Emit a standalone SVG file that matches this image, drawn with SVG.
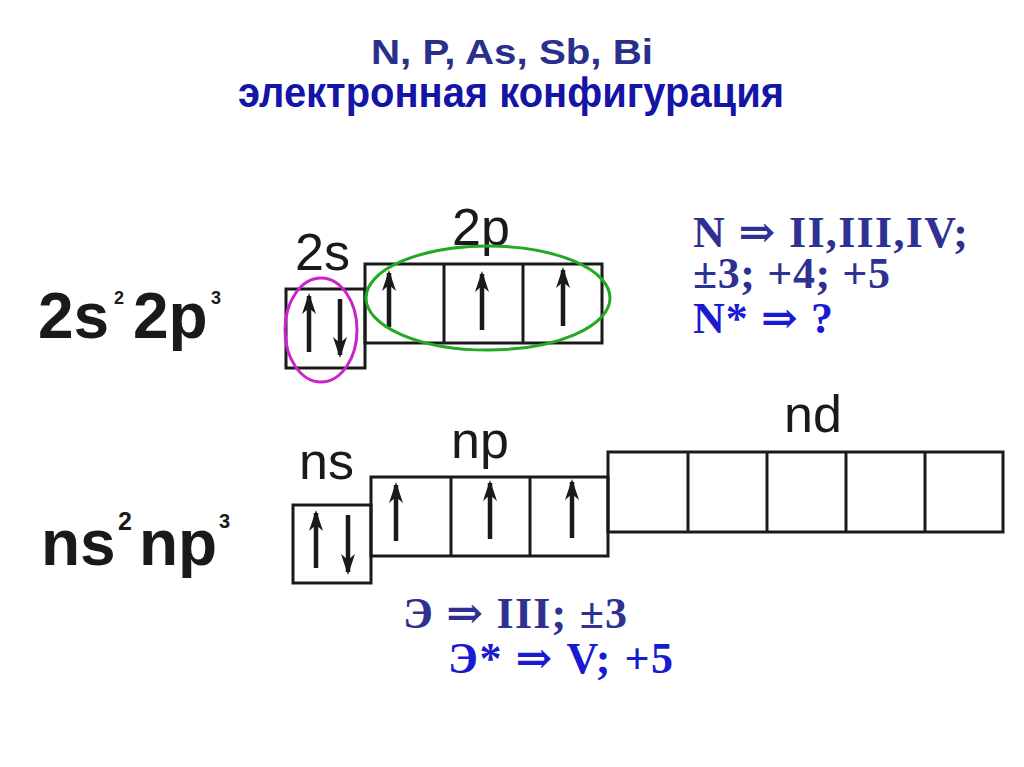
<svg xmlns="http://www.w3.org/2000/svg" width="1024" height="767" viewBox="0 0 1024 767">
<style>
.box{fill:none;stroke:#1a1a1a;stroke-width:3}
.spin{stroke:#1a1a1a;stroke-width:4.5;marker-end:url(#ah)}
.lbl{font-family:"Liberation Sans",Arial,sans-serif;font-size:52px;fill:#1a1a1a}
.cfg{font-family:"Liberation Sans",Arial,sans-serif;font-weight:bold;fill:#1a1a1a}
.tt{font-family:"Liberation Sans",Arial,sans-serif;font-weight:bold}
.ser{font-family:"Liberation Serif","Times New Roman","DejaVu Serif",serif;font-weight:bold;font-size:44px}
.navy{fill:#2e3192}
.blue{fill:#1a1ad2}
</style>
<defs>
<marker id="ah" markerUnits="userSpaceOnUse" markerWidth="26" markerHeight="18" viewBox="-22 -9 26 18" refX="0" refY="0" orient="auto">
<path d="M3,0 L-18,-7 L-12,0 L-18,7 Z" fill="#1a1a1a"/>
</marker>
</defs>
<rect width="1024" height="767" fill="#ffffff"/>

<g id="title">
<text class="tt" x="371" y="64" font-size="35" fill="#2b2f8c" textLength="282" lengthAdjust="spacingAndGlyphs">N, P, As, Sb, Bi</text>
<text class="tt" x="238" y="107" font-size="43" fill="#1414a6" textLength="546" lengthAdjust="spacingAndGlyphs">электронная конфигурация</text>
</g>

<g id="config-2s2p3">
<text class="cfg" x="38" y="338" font-size="64">2s</text>
<text class="cfg" x="114" y="304" font-size="18">2</text>
<text class="cfg" x="133" y="338" font-size="64">2p</text>
<text class="cfg" x="211" y="304" font-size="18">3</text>
</g>

<g id="config-ns2np3">
<text class="cfg" x="41" y="565" font-size="64">ns</text>
<text class="cfg" x="118" y="530" font-size="25">2</text>
<text class="cfg" x="139" y="565" font-size="64">np</text>
<text class="cfg" x="219" y="528" font-size="20">3</text>
</g>

<g id="orbital-2s">
<text class="lbl" x="295" y="270">2s</text>
<rect class="box" x="286" y="289" width="79" height="79"/>
<line class="spin" x1="309" y1="352" x2="309" y2="296"/>
<line class="spin" x1="340" y1="299" x2="340" y2="355"/>
</g>

<g id="orbital-2p">
<text class="lbl" x="452" y="245">2p</text>
<rect class="box" x="365" y="264" width="237" height="79"/>
<line class="box" x1="444" y1="264" x2="444" y2="343"/>
<line class="box" x1="523" y1="264" x2="523" y2="343"/>
<line class="spin" x1="389" y1="327" x2="389" y2="273"/>
<line class="spin" x1="482" y1="330" x2="482" y2="274"/>
<line class="spin" x1="563" y1="326" x2="563" y2="270"/>
</g>

<g id="highlight-2s">
<ellipse cx="321" cy="330" rx="36" ry="52" fill="none" stroke="#cc22cc" stroke-width="3"/>
</g>
<g id="highlight-2p">
<ellipse cx="488" cy="298" rx="122" ry="52" fill="none" stroke="#22aa22" stroke-width="3"/>
</g>

<g id="orbital-ns">
<text class="lbl" x="299" y="479">ns</text>
<rect class="box" x="293" y="505" width="78" height="78"/>
<line class="spin" x1="316" y1="568" x2="316" y2="513"/>
<line class="spin" x1="348" y1="515" x2="348" y2="572"/>
</g>

<g id="orbital-np">
<text class="lbl" x="451" y="458">np</text>
<rect class="box" x="371" y="477" width="237" height="79"/>
<line class="box" x1="451" y1="477" x2="451" y2="556"/>
<line class="box" x1="530" y1="477" x2="530" y2="556"/>
<line class="spin" x1="396" y1="541" x2="396" y2="485"/>
<line class="spin" x1="490" y1="539" x2="490" y2="483"/>
<line class="spin" x1="572" y1="538" x2="572" y2="482"/>
</g>

<g id="orbital-nd">
<text class="lbl" x="784" y="432">nd</text>
<rect class="box" x="608" y="452" width="395" height="80"/>
<line class="box" x1="688" y1="452" x2="688" y2="532"/>
<line class="box" x1="767" y1="452" x2="767" y2="532"/>
<line class="box" x1="846" y1="452" x2="846" y2="532"/>
<line class="box" x1="925" y1="452" x2="925" y2="532"/>
</g>

<g id="nitrogen-valence">
<text class="ser navy" x="693" y="247" textLength="275" lengthAdjust="spacing">N ⇒ II,III,IV;</text>
<text class="ser navy" x="693" y="288" textLength="197" lengthAdjust="spacing">±3; +4; +5</text>
<text class="ser blue" x="693" y="333" textLength="140" lengthAdjust="spacing">N* ⇒ ?</text>
</g>

<g id="element-valence">
<text class="ser navy" x="403" y="628" textLength="224" lengthAdjust="spacing">Э ⇒ III; ±3</text>
<text class="ser blue" x="448" y="673" textLength="225" lengthAdjust="spacing">Э* ⇒ V; +5</text>
</g>

<g id="connectors"/>
</svg>
